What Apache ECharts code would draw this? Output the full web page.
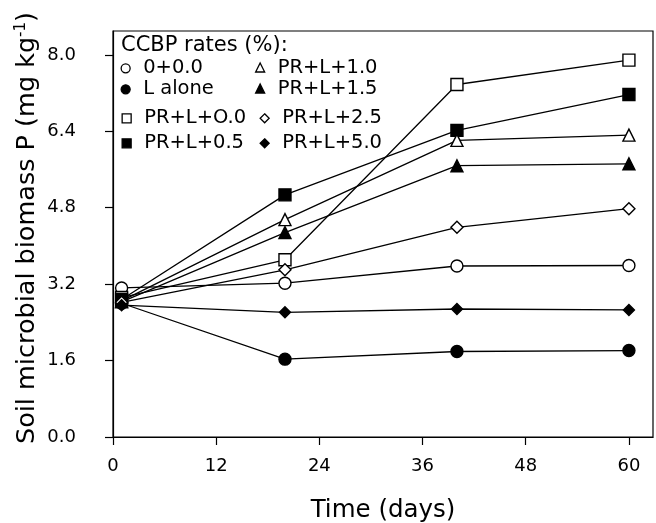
<!DOCTYPE html>
<html>
<head>
<meta charset="utf-8">
<script src="https://cdn.jsdelivr.net/npm/echarts@6/dist/echarts.min.js"></script>
<style>html,body{margin:0;padding:0;background:#fff}#c{width:656px;height:523px}</style>
</head>
<body>
<div id="c"></div>
<script>
// Data (days after incubation; soil microbial biomass P, mg/kg)
const days = [1, 20, 40, 60];
const xTicks = [0, 12, 24, 36, 48, 60];
const yTicks = [0, 1.6, 3.2, 4.8, 6.4, 8.0];
const names = ['0+0.0', 'L alone', 'PR+L+O.0', 'PR+L+0.5', 'PR+L+1.0', 'PR+L+1.5', 'PR+L+2.5', 'PR+L+5.0'];
const v00   = [3.12, 3.22, 3.58, 3.59];
const vL    = [2.80, 1.63, 1.79, 1.81];
const vPR00 = [2.92, 3.71, 7.38, 7.89];
const vPR05 = [2.88, 5.07, 6.42, 7.17];
const vPR10 = [2.85, 4.55, 6.21, 6.32];
const vPR15 = [2.83, 4.28, 5.68, 5.72];
const vPR25 = [2.82, 3.50, 4.39, 4.78];
const vPR50 = [2.76, 2.61, 2.68, 2.66];

const values = [v00, vL, vPR00, vPR05, vPR10, vPR15, vPR25, vPR50];
const symbols = ['circle', 'circle', 'rect', 'rect', 'triangle', 'triangle', 'diamond', 'diamond'];
const filled = [false, true, false, true, false, true, false, true];
const sizes = [12, 12, 12, 12, 12, 12, 12, 11];

const FONT = 'DejaVu Sans';

const series = names.map((n, i) => ({
  name: n,
  type: 'line',
  yAxisIndex: 0,
  data: days.map((d, j) => [d, values[i][j]]),
  symbol: symbols[i],
  symbolSize: sizes[i],
  showAllSymbol: true,
  lineStyle: { color: '#000', width: 1.3 },
  itemStyle: { color: filled[i] ? '#000' : '#fff', borderColor: '#000', borderWidth: 1.4 },
  emphasis: { disabled: true },
  silent: true,
  z: 2
}));

function legendItems(idx) {
  return idx.map(i => ({
    name: names[i],
    icon: symbols[i],
    itemStyle: { color: filled[i] ? '#000' : '#fff', borderColor: '#000', borderWidth: 1.3 }
  }));
}
function makeLegend(idx, left, top, gap) {
  return {
    orient: 'vertical',
    left: left, top: top,
    padding: 0,
    itemGap: gap,
    itemWidth: 9, itemHeight: 9,
    selectedMode: false,
    data: legendItems(idx),
    textStyle: { fontFamily: FONT, fontSize: 19.5, color: '#000', lineHeight: 20, padding: [0, 0, 0, 8] }
  };
}

const chart = echarts.init(document.getElementById('c'), null, { renderer: 'canvas' });
chart.setOption({
  animation: false,
  backgroundColor: '#fff',
  title: {
    text: 'CCBP rates (%):',
    left: 121, top: 35, padding: 0,
    textStyle: { fontFamily: FONT, fontSize: 21, fontWeight: 'normal', color: '#000' }
  },
  legend: [
    makeLegend([0, 1], 120.5, 58.3, 1),
    makeLegend([2, 3], 121.5, 108.3, 5),
    makeLegend([4, 5], 255, 57.5, 1),
    makeLegend([6, 7], 259.5, 108.3, 5)
  ],
  grid: { left: 113, right: 3, top: 31, bottom: 86, show: true, borderColor: '#000', borderWidth: 1.2,
    backgroundColor: 'transparent', containLabel: false, outerBoundsMode: 'none' },
  xAxis: {
    type: 'value', min: 0, max: 62.8,
    name: 'Time (days)', nameLocation: 'middle', nameGap: 61,
    nameTextStyle: { fontFamily: FONT, fontSize: 24.5, color: '#000' },
    axisLine: { show: true, lineStyle: { color: '#000', width: 1.2 } },
    axisTick: { show: true, inside: false, length: 8, lineStyle: { color: '#000', width: 1.2 }, customValues: xTicks },
    axisLabel: { fontFamily: FONT, fontSize: 18, color: '#000', margin: 20, customValues: xTicks },
    splitLine: { show: false }
  },
  yAxis: [{
    type: 'value', min: 0, max: 8.5, position: 'left',
    axisLine: { show: true, lineStyle: { color: '#000', width: 1.2 } },
    axisTick: { show: true, inside: false, length: 8, lineStyle: { color: '#000', width: 1.2 }, customValues: yTicks },
    axisLabel: { show: false },
    splitLine: { show: false }
  }, {
    type: 'value', min: 0, max: 8.5, position: 'left', offset: 16,
    name: '{gap|}Soil microbial biomass P (mg kg{sup|-1})', nameLocation: 'middle', nameGap: 56, nameRotate: 90,
    nameMoveOverlap: false,
    nameTextStyle: { fontFamily: FONT, fontSize: 25.5, color: '#000',
      rich: { gap: { width: 12 }, sup: { fontFamily: FONT, fontSize: 15, color: '#000', padding: [0, 0, 12, 0] } } },
    axisLine: { show: false },
    axisTick: { show: false },
    axisLabel: { fontFamily: FONT, fontSize: 18, color: '#000', margin: 21, align: 'right', customValues: yTicks,
      formatter: v => v.toFixed(1) },
    splitLine: { show: false }
  }],
  series: series
});
</script>
</body>
</html>
